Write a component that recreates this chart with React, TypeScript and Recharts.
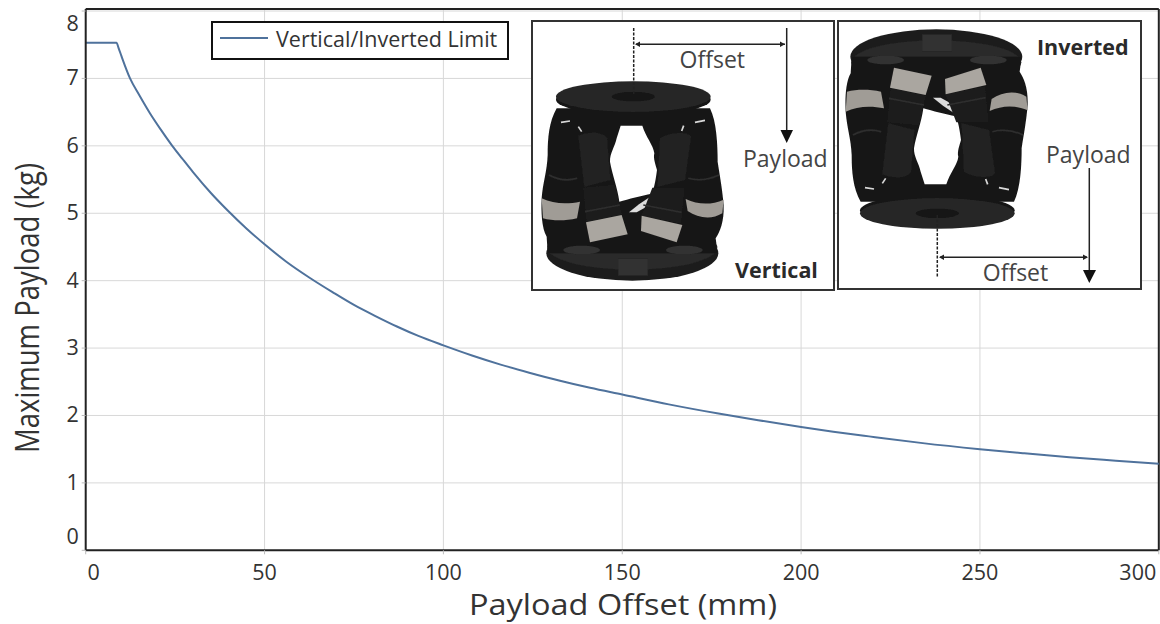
import { CartesianGrid, Label, Legend, Line, LineChart, ReferenceLine, XAxis, YAxis } from "recharts";

/* ── Data ── */

const offsetMm = [0, 8.6, 9.2, 10, 12.4, 15, 18, 21, 24.2, 27, 30, 35, 39.7, 45, 50, 56, 62.7, 69, 75, 81, 87, 93, 100, 108, 116, 124, 132.6, 141, 150, 163, 177.3, 188, 200, 209, 219, 234, 250, 262, 275, 288, 300];
const limitKg = [7.53, 7.53, 7.45, 7.33, 7.0, 6.75, 6.48, 6.24, 6.0, 5.81, 5.61, 5.3, 5.04, 4.77, 4.54, 4.285, 4.04, 3.83, 3.64, 3.475, 3.32, 3.18, 3.04, 2.89, 2.755, 2.635, 2.515, 2.41, 2.31, 2.165, 2.025, 1.93, 1.83, 1.76, 1.69, 1.59, 1.5, 1.44, 1.38, 1.33, 1.285];

const xTicks = [0, 50, 100, 150, 200, 250, 300];
const yTicks = [0, 1, 2, 3, 4, 5, 6, 7, 8];
const seriesName = "Vertical/Inverted Limit";
const xTitle = "Payload Offset (mm)";
const yTitle = "Maximum Payload (kg)";

const rows = offsetMm.map((x, i) => ({ x, limit: limitKg[i] }));

const FONT = "'Open Sans', sans-serif";
const X_MAX = 300;
const Y_MAX = 8.03;

/* ── Axis ticks, the end labels are pulled inside ── */

function XTick({ x, y, payload }: any) {
  let shift = 0;
  if (payload.value === 0) shift = 8;
  if (payload.value === 300) shift = -21;
  return (
    <text x={x + shift} y={y + 24} textAnchor="middle" fontFamily={FONT} fontSize={21.5} fill="#333">
      {payload.value}
    </text>
  );
}

function YTick({ x, y, payload }: any) {
  let shift = 7;
  if (payload.value === 8) shift = 20;
  if (payload.value === 0) shift = -6;
  return (
    <text x={x - 1} y={y + shift} textAnchor="end" fontFamily={FONT} fontSize={21.5} fill="#333">
      {payload.value}
    </text>
  );
}

/* the titles are stretched or squeezed along their length in the reference */
function XTitle() {
  return (
    <text
      x={623}
      y={615}
      textAnchor="middle"
      textLength={308}
      lengthAdjust="spacingAndGlyphs"
      fontFamily={FONT}
      fontSize={30}
      fill="#333"
    >
      {xTitle}
    </text>
  );
}

function YTitle() {
  return (
    <text
      x={39.3}
      y={308}
      transform="rotate(-90 39.3 308)"
      textAnchor="middle"
      textLength={290}
      lengthAdjust="spacingAndGlyphs"
      fontFamily={FONT}
      fontSize={33}
      fill="#333"
    >
      {yTitle}
    </text>
  );
}

/* ── Legend box ── */

function LegendBox({ payload }: any) {
  const item = payload?.[0];
  return (
    <div
      style={{
        boxSizing: "border-box",
        width: 298,
        height: 39,
        border: "2px solid #111",
        background: "#fff",
        display: "flex",
        alignItems: "center",
        paddingBottom: 5,
        fontFamily: FONT,
        fontSize: 21.5,
        color: "#333",
      }}
    >
      <span style={{ width: 48, height: 2.5, marginLeft: 7, marginRight: 8, background: item?.color }} />
      {item?.value}
    </div>
  );
}

/* ── Hexapod drawing for the two insets ── */

function Hexapod({ transform }: { transform: string }) {
  return (
    <g transform={transform} filter="url(#soft)">
      {/* base plate */}
      <ellipse cx={322} cy={745} rx={258} ry={82} fill="#1e1e1e" />
      <ellipse cx={322} cy={728} rx={255} ry={66} fill="#292929" />
      {/* leg silhouette */}
      <path
        d="M95 310 L555 310 C575 350 578 420 578 470 C584 510 592 550 596 600 C598 650 585 680 572 700 L578 745 L68 745 L65 695 C50 670 48 620 50 580 C54 530 66 500 68 450 C68 400 72 350 95 310 Z"
        fill="#191919"
      />
      {/* opening between the legs */}
      <path
        d="M287 362 L352 362 C362 395 385 420 388 445 C384 460 392 480 396 495 C392 525 388 550 380 566 C350 572 310 582 283 590 C278 550 262 510 255 470 C254 445 270 425 275 400 Z"
        fill="#fff"
      />
      <polygon points="312,622 342,598 378,574 365,605 335,622" fill="#dcdcdc" />
      {/* leg sections */}
      <path d="M160 392 C200 375 240 385 246 400 L256 525 L178 545 Z" fill="#222" />
      <path d="M405 400 C440 380 490 380 498 395 L480 525 L398 545 Z" fill="#222" />
      <path d="M175 548 L270 540 L290 628 L185 650 Z" fill="#1c1c1c" />
      <path d="M382 548 L478 548 L468 655 L350 632 Z" fill="#1c1c1c" />
      <path d="M72 510 C100 525 130 528 156 520 M490 520 C520 528 550 525 582 510 M180 620 L285 600 M355 600 L470 622" stroke="#2e2e2e" strokeWidth={5} fill="none" />
      {/* grey bands */}
      <path d="M50 580 C85 598 130 598 165 590 L156 640 C120 648 85 648 54 640 Z" fill="#a09c96" />
      <path d="M482 582 C520 600 560 600 596 584 L592 625 C560 645 520 640 488 618 Z" fill="#a09c96" />
      <path d="M183 652 L290 630 L308 688 L195 712 Z" fill="#aaa6a0" />
      <path d="M350 632 L472 660 L455 712 L348 678 Z" fill="#aaa6a0" />
      {/* joints */}
      <path d="M108 352 L135 348 M470 378 L476 362 M510 352 L540 346 M160 365 L170 380" stroke="#d8d8d8" strokeWidth={5} fill="none" />
      <rect x={280} y={762} width={88} height={50} fill="#303030" />
      <ellipse cx={170} cy={735} rx={55} ry={13} fill="#333" />
      <ellipse cx={478} cy={735} rx={55} ry={13} fill="#333" />
      {/* top plate */}
      <ellipse cx={325} cy={284} rx={232} ry={46} fill="#141414" />
      <ellipse cx={325} cy={275} rx={232} ry={46} fill="#252525" />
      <ellipse cx={325} cy={275} rx={64} ry={14} fill="#141414" />
    </g>
  );
}

function Insets() {
  const ink = "#222";
  const label = { fontFamily: FONT, fontSize: 23, fill: "#444" };
  const tag = { fontFamily: FONT, fontSize: 21.5, fontWeight: 700, fill: "#2a2a2a" };
  return (
    <svg width={1160} height={624} style={{ position: "absolute", left: 0, top: 0, pointerEvents: "none" }}>
      <defs>
        <filter id="soft">
          <feGaussianBlur stdDeviation="1.5" />
        </filter>
      </defs>

      {/* vertical mount */}
      <rect x={532} y={21} width={302} height={269} fill="#fff" stroke="#333" strokeWidth={2} />
      <Hexapod transform="translate(525 5) scale(0.3333)" />
      <line x1={633.7} y1={28} x2={633.7} y2={95} stroke={ink} strokeWidth={1.5} strokeDasharray="3 1.5" />
      <line x1={636} y1={44.3} x2={785} y2={44.3} stroke={ink} strokeWidth={1.5} />
      <polygon points="635,44.3 640,41.5 640,47" fill={ink} />
      <polygon points="785,44.3 780,41.5 780,47" fill={ink} />
      <line x1={786.7} y1={28} x2={786.7} y2={134} stroke={ink} strokeWidth={1.5} />
      <polygon points="780.5,130 793,130 786.7,143" fill="#111" />
      <text x={712.3} y={68} textAnchor="middle" {...label}>Offset</text>
      <text x={743} y={167} {...label}>Payload</text>
      <text x={735} y={278} {...tag}>Vertical</text>

      {/* inverted mount */}
      <rect x={838} y={21} width={303} height={268} fill="#fff" stroke="#333" strokeWidth={2} />
      <Hexapod transform="translate(829 305) scale(0.3333 -0.3333)" />
      <line x1={937.3} y1={215} x2={937.3} y2={278} stroke={ink} strokeWidth={1.5} strokeDasharray="3 1.5" />
      <line x1={940} y1={257.3} x2={1087} y2={257.3} stroke={ink} strokeWidth={1.5} />
      <polygon points="939,257.3 944,254.5 944,260" fill={ink} />
      <polygon points="1088,257.3 1083,254.5 1083,260" fill={ink} />
      <line x1={1089.3} y1={168} x2={1089.3} y2={272} stroke={ink} strokeWidth={1.5} />
      <polygon points="1083,270 1096,270 1089.3,283" fill="#111" />
      <text x={1015.5} y={281} textAnchor="middle" {...label}>Offset</text>
      <text x={1046} y={163} {...label}>Payload</text>
      <text x={1037} y={55} {...tag}>Inverted</text>
    </svg>
  );
}

export default function App() {
  return (
    <div style={{ position: "absolute", left: 0, top: 0, width: 1160, height: 624, background: "#fff" }}>
      <LineChart width={1160} height={624} data={rows} margin={{ top: 9, right: 1.2, bottom: 0, left: 0 }}>
        <CartesianGrid stroke="#d8d8d8" strokeWidth={1} />
        <XAxis
          dataKey="x"
          type="number"
          domain={[0, X_MAX]}
          ticks={xTicks}
          height={73.7}
          interval={0}
          tick={<XTick />}
          tickSize={4}
          tickLine={{ stroke: "#bbb" }}
          axisLine={{ stroke: "#222", strokeWidth: 2 }}
        >
          <Label content={<XTitle />} />
        </XAxis>
        <YAxis
          type="number"
          domain={[0, Y_MAX]}
          ticks={yTicks}
          width={85.7}
          interval={0}
          allowDataOverflow
          tick={<YTick />}
          tickSize={4}
          tickLine={{ stroke: "#bbb" }}
          axisLine={{ stroke: "#222", strokeWidth: 2 }}
        >
          <Label content={<YTitle />} />
        </YAxis>
        <ReferenceLine y={Y_MAX} stroke="#222" strokeWidth={2} />
        <ReferenceLine x={X_MAX} stroke="#222" strokeWidth={2} />
        <Line
          name={seriesName}
          dataKey="limit"
          type="monotone"
          stroke="#4f729c"
          strokeWidth={2}
          dot={false}
          isAnimationActive={false}
        />
        <Legend
          layout="horizontal"
          align="center"
          verticalAlign="middle"
          wrapperStyle={{ left: 211, top: 21, width: 298, margin: 0, padding: 0 }}
          content={<LegendBox />}
        />
      </LineChart>
      <Insets />
    </div>
  );
}
